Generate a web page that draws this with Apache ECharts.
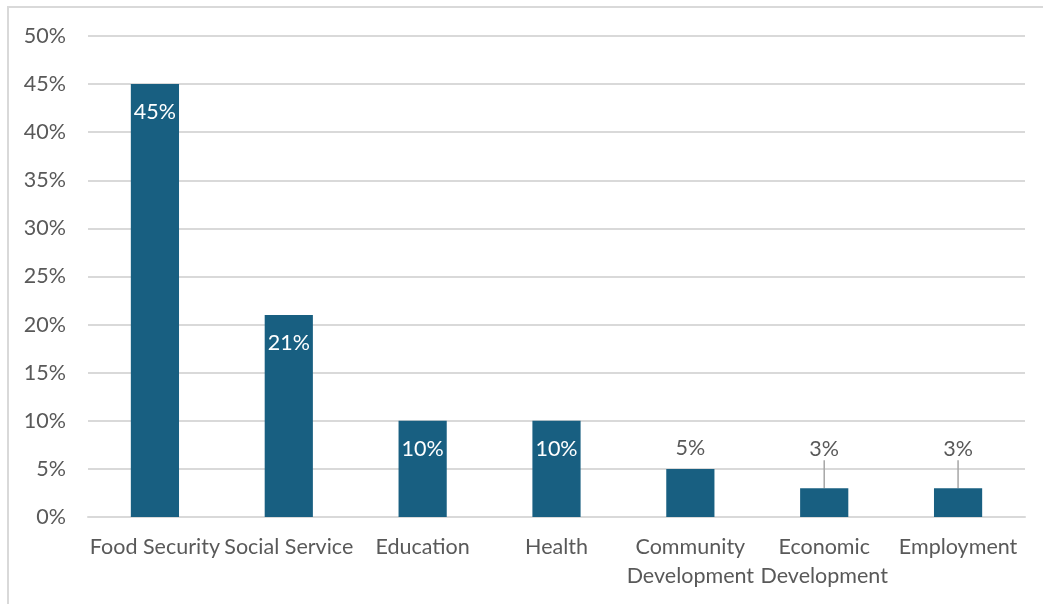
<!DOCTYPE html>
<html>
<head>
<meta charset="utf-8">
<script src="https://cdn.jsdelivr.net/npm/echarts@6/dist/echarts.min.js"></script>
<style>
  html, body { margin: 0; padding: 0; background: #fff; }
  #frame { position: absolute; left: 7px; top: 6px; width: 1036px; height: 598px;
           border-top: 2px solid #d9d9d9; border-left: 2px solid #d9d9d9; }
  #chart { position: absolute; left: 0; top: 0; width: 1043px; height: 604px; }
</style>
</head>
<body>
<div id="frame"></div>
<div id="chart"></div>
<script>
var chart = echarts.init(document.getElementById('chart'));

var categories = ['Food Security', 'Social Service', 'Education', 'Health',
                  'Community Development', 'Economic Development', 'Employment'];
var shares = [45, 21, 10, 10, 5, 3, 3];
var yTicks = [0, 5, 10, 15, 20, 25, 30, 35, 40, 45, 50];

var barColor = '#185f81';
var textColor = '#595959';
var font = 'Lato';

// big bars get the label inside, small ones above
var barData = shares.map(function (v, i) {
    var item = { value: v };
    if (v >= 10) {
        item.label = { position: 'insideTop', distance: 17, color: '#fff' };
    } else {
        item.label = { position: 'top', distance: 10, color: textColor };
        if (v < 5) item.labelLine = { show: true, lineStyle: { color: '#a6a6a6', width: 1.5 } };
    }
    return item;
});

var option = {
    animation: false,
    grid: { left: 88, right: 18, top: 36, bottom: 87 },
    xAxis: {
        type: 'category',
        data: categories,
        axisLine: { lineStyle: { color: '#d9d9d9', width: 2 } },
        axisTick: { show: false },
        axisLabel: {
            interval: 0,
            margin: 16,
            color: textColor,
            fontFamily: font,
            fontSize: 21.5,
            lineHeight: 29,
            formatter: function (s) { return s.replace(' Development', '\nDevelopment'); }
        }
    },
    yAxis: {
        type: 'value',
        min: yTicks[0],
        max: yTicks[yTicks.length - 1],
        interval: yTicks[1] - yTicks[0],
        axisLine: { show: false },
        axisTick: { show: false },
        splitLine: { lineStyle: { color: '#d9d9d9', width: 2 } },
        axisLabel: {
            margin: 22,
            color: textColor,
            fontFamily: font,
            fontSize: 21.5,
            formatter: '{value}%'
        }
    },
    series: [{
        type: 'bar',
        data: barData,
        barWidth: '36%',
        itemStyle: { color: barColor },
        label: {
            show: true,
            fontFamily: font,
            fontSize: 21.5,
            formatter: '{c}%'
        },
        labelLayout: function (p) {
            if (shares[p.dataIndex] < 5) return { dy: -18 };
            return {};
        }
    }]
};
chart.setOption(option);
</script>
</body>
</html>
